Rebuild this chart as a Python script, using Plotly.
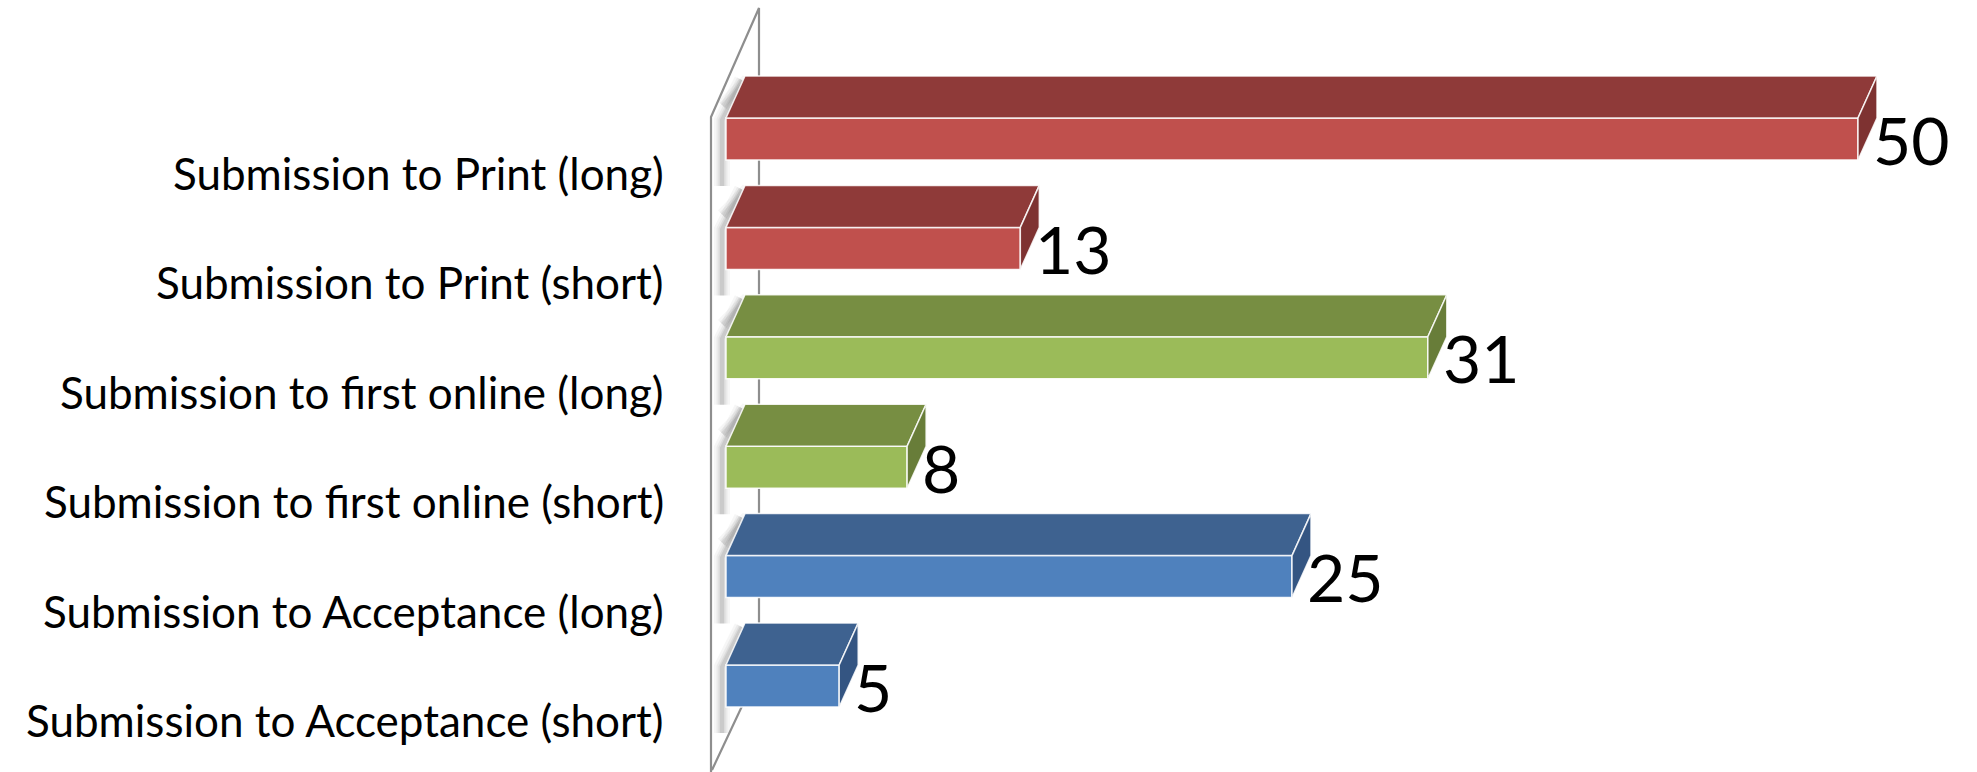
import plotly.graph_objects as go

# ---------------- data ----------------
categories = [
    "Submission to Acceptance (short)",
    "Submission to Acceptance (long)",
    "Submission to first online (short)",
    "Submission to first online (long)",
    "Submission to Print (short)",
    "Submission to Print (long)",
]
values = [5, 25, 8, 31, 13, 50]
front_colors = ["#4F81BD", "#4F81BD", "#9BBB59", "#9BBB59", "#C0504D", "#C0504D"]
top_colors = ["#3E6290", "#3E6290", "#778E42", "#778E42", "#8F3A39", "#8F3A39"]
side_colors = ["#345582", "#345582", "#687D39", "#687D39", "#7E3231", "#7E3231"]

# ---------------- geometry (pixel-based styling) ----------------
W, H = 1977, 772
PX_X = 22.64          # pixels per value unit
X0_PX = 726           # pixel of value 0
PX_Y = 109.4          # pixels per category step
Y0_PX = 686           # pixel (from top) of first category centre


def xu(px):  # pixel width -> x units
    return px / PX_X


def yu(px):  # pixel height -> y units
    return px / PX_Y


x_range = [-X0_PX / PX_X, (W - X0_PX) / PX_X]
y_range = [-(H - Y0_PX) / PX_Y, Y0_PX / PX_Y]

half_h = yu(21)
dx, dy = xu(19), yu(42)

fig = go.Figure()
shapes = []


def path(points):
    return "M " + " L ".join(f"{px:.4f},{py:.4f}" for px, py in points)


# ---------------- wall (drawn below the bars) ----------------
wall_front_x = xu(711 - X0_PX)
wall_back_x = xu(759 - X0_PX)
wall_back_top = yu(Y0_PX - 8)
wall_front_top = yu(Y0_PX - 117)
wall_back_bottom = yu(Y0_PX - 670)
wall_front_bottom = yu(Y0_PX - 770)

# soft shadows cast by the bars onto the wall
for i in range(len(values)):
    yc = i
    pts = [
        (xu(-4), yc - half_h - yu(26)),
        (xu(-4), yc + half_h - yu(2)),
        (dx - xu(3), yc + half_h + dy - yu(4)),
    ]
    for wd, op in [(16, 0.05), (11, 0.07), (7, 0.09), (4, 0.12)]:
        shapes.append(dict(type="path", xref="x", yref="y", layer="below",
                           path=path(pts),
                           line=dict(color=f"rgba(80,80,80,{op})", width=wd)))
    # band in the gap under each bar
    gap = [(xu(-3), yc - half_h - yu(2)), (dx + xu(2), yc - half_h + yu(22))]
    if i > 0:
        for wd, op in [(14, 0.05), (9, 0.07), (5, 0.09)]:
            shapes.append(dict(type="path", xref="x", yref="y", layer="below",
                               path=path([(xu(-3), yc + half_h + dy - yu(30)),
                                          (dx + xu(3), yc + half_h + dy - yu(4))]),
                               line=dict(color=f"rgba(80,80,80,{op})", width=wd)))

wall_line = dict(color="#8E8E8E", width=2.2)
shapes.append(dict(type="path", xref="x", yref="y", layer="below",
                   path=path([(wall_front_x, y_range[0]),
                              (wall_front_x, wall_front_top),
                              (wall_back_x, wall_back_top),
                              (wall_back_x, wall_back_bottom),
                              (wall_front_x + xu(1), wall_front_bottom)]),
                   line=wall_line))

# ---------------- 3-D bars ----------------
for i, (v, fc, tc, sc) in enumerate(zip(values, front_colors, top_colors, side_colors)):
    yc = i
    # top face
    fig.add_trace(go.Scatter(
        x=[0, v, v + dx, dx, 0],
        y=[yc + half_h, yc + half_h, yc + half_h + dy, yc + half_h + dy, yc + half_h],
        fill="toself", fillcolor=tc, mode="lines",
        line=dict(color="rgba(255,255,255,0.85)", width=1.5),
        hoverinfo="skip", showlegend=False))
    # side face
    fig.add_trace(go.Scatter(
        x=[v, v + dx, v + dx, v, v],
        y=[yc - half_h, yc - half_h + dy, yc + half_h + dy, yc + half_h, yc - half_h],
        fill="toself", fillcolor=sc, mode="lines",
        line=dict(color="rgba(255,255,255,0.85)", width=1.5),
        hoverinfo="skip", showlegend=False))

# front faces as real bars
fig.add_trace(go.Bar(
    x=values, y=list(range(len(values))), orientation="h",
    width=2 * half_h, base=0,
    marker=dict(color=front_colors, line=dict(color="rgba(255,255,255,0.9)", width=1.5)),
    hoverinfo="skip", showlegend=False))

# ---------------- text ----------------
for i, (cat, v) in enumerate(zip(categories, values)):
    fig.add_annotation(
        x=xu(666 - X0_PX), y=i - yu(34), xref="x", yref="y",
        text=cat, showarrow=False, xanchor="right", yanchor="middle",
        font=dict(family="Lato, Carlito, sans-serif", size=44, color="#000000"))
    fig.add_annotation(
        x=v + dx, y=i, xref="x", yref="y",
        text=str(v), showarrow=False, xanchor="left", yanchor="middle",
        yshift=0, xshift=-6,
        font=dict(family="Lato, Carlito, sans-serif", size=66, color="#000000"))

fig.update_layout(
    width=W, height=H,
    margin=dict(l=0, r=0, t=0, b=0),
    paper_bgcolor="white", plot_bgcolor="white",
    xaxis=dict(range=x_range, visible=False, fixedrange=True),
    yaxis=dict(range=y_range, visible=False, fixedrange=True),
    barmode="overlay",
    shapes=shapes,
)

fig.write_html("out.html")
